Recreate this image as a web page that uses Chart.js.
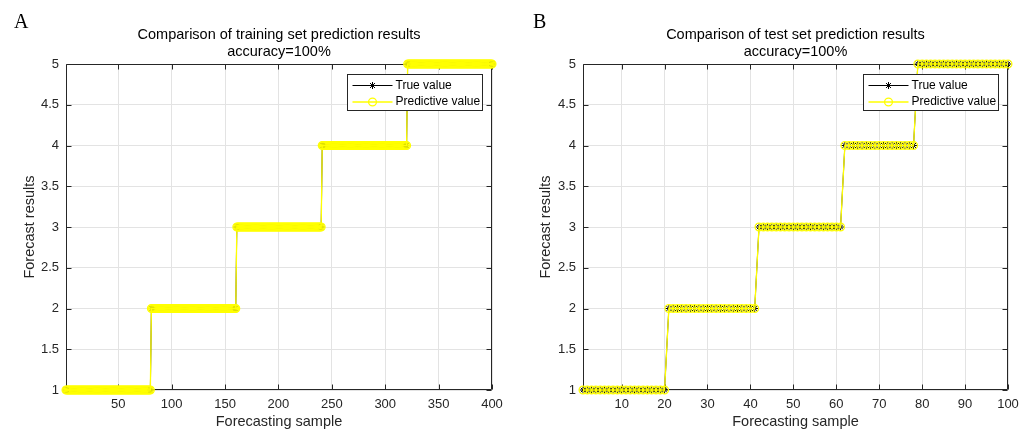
<!DOCTYPE html>
<html>
<head>
<meta charset="utf-8">
<title>Prediction results</title>
<script src="https://cdn.jsdelivr.net/npm/chart.js@4.4.1/dist/chart.umd.min.js"></script>
<style>
  body { margin: 0; background: #fff; }
  #wrap { position: relative; width: 1031px; height: 431px; overflow: hidden; }
  #wrap canvas { position: absolute; top: 0; }
  .panel { position: absolute; top: 11px; font: 20px "Liberation Serif", "DejaVu Serif", serif; line-height: 20px; color: #000; }
</style>
</head>
<body>
<div id="wrap">
  <canvas id="train" width="515" height="431" style="left:0"></canvas>
  <canvas id="test" width="515" height="431" style="left:516px"></canvas>
  <div class="panel" style="left:14px">A</div>
  <div class="panel" style="left:533px">B</div>
</div>
<script>
// class labels and how many samples of each class, in order
const classLabels = [1, 2, 3, 4, 5];
const trainCounts = [80, 80, 80, 80, 80];
const testCounts = [20, 21, 20, 17, 22];
// accuracy=100%, so the predicted runs are the same as the true ones
const trainPredCounts = [80, 80, 80, 80, 80];
const testPredCounts = [20, 21, 20, 17, 22];

const trainXTicks = [50, 100, 150, 200, 250, 300, 350, 400];
const testXTicks = [10, 20, 30, 40, 50, 60, 70, 80, 90, 100];
const yTicks = [1, 1.5, 2, 2.5, 3, 3.5, 4, 4.5, 5];

const seriesNames = ['True value', 'Predictive value'];
const titles = {
    train: ['Comparison of training set prediction results', 'accuracy=100%'],
    test: ['Comparison of test set prediction results', 'accuracy=100%']
};

Chart.defaults.font.family = '"Liberation Sans", Arial, Helvetica, sans-serif';
Chart.defaults.color = '#262626';

// turn the runs into one point per sample: x = sample number, y = class
function samplesFromRuns(labels, counts) {
    const pts = [];
    labels.forEach((lab, i) => {
        for (let k = 0; k < counts[i]; k++) {
            pts.push({ x: pts.length + 1, y: lab });
        }
    });
    return pts;
}

// MATLAB style box with inward ticks on all four sides
const matlabBox = {
    id: 'matlabBox',
    beforeDatasetsDraw(chart, args, opts) {
        const { ctx, chartArea: a, scales: { x, y } } = chart;
        const l = Math.round(a.left) + 0.5, r = Math.round(a.right) - 0.5;
        const t = Math.round(a.top) + 0.5, b = Math.round(a.bottom) - 0.5;
        ctx.save();
        ctx.strokeStyle = '#262626';
        ctx.lineWidth = 1;
        ctx.beginPath();
        ctx.rect(l, t, r - l, b - t);
        opts.xTicks.forEach(v => {
            const px = Math.round(x.getPixelForValue(v)) + 0.5;
            ctx.moveTo(px, b); ctx.lineTo(px, b - 5);
            ctx.moveTo(px, t); ctx.lineTo(px, t + 5);
        });
        opts.yTicks.forEach(v => {
            const py = Math.round(y.getPixelForValue(v)) + 0.5;
            ctx.moveTo(l, py); ctx.lineTo(l + 5, py);
            ctx.moveTo(r, py); ctx.lineTo(r - 5, py);
        });
        ctx.stroke();
        ctx.restore();
    }
};

function drawMarker(ctx, style, r, cx, cy) {
    ctx.beginPath();
    if (style === 'star') {
        const d = r * Math.SQRT1_2;
        ctx.moveTo(cx - r, cy); ctx.lineTo(cx + r, cy);
        ctx.moveTo(cx, cy - r); ctx.lineTo(cx, cy + r);
        ctx.moveTo(cx - d, cy - d); ctx.lineTo(cx + d, cy + d);
        ctx.moveTo(cx - d, cy + d); ctx.lineTo(cx + d, cy - d);
    } else {
        ctx.arc(cx, cy, r, 0, Math.PI * 2);
    }
    ctx.stroke();
}

// boxed legend in the top right corner of the axes
const matlabLegend = {
    id: 'matlabLegend',
    afterDraw(chart) {
        const { ctx, chartArea: a } = chart;
        const w = 135, h = 36;
        const left = Math.round(a.right - 10 - w) + 0.5;
        const top = Math.round(a.top + 10) + 0.5;
        ctx.save();
        ctx.fillStyle = '#fff';
        ctx.fillRect(left, top, w, h);
        ctx.strokeStyle = '#262626';
        ctx.lineWidth = 1;
        ctx.strokeRect(left, top, w, h);
        ctx.font = '12px "Liberation Sans", Arial, sans-serif';
        ctx.textBaseline = 'middle';
        chart.data.datasets.forEach((ds, i) => {
            const cy = top + 11 + i * 16.5;
            ctx.strokeStyle = ds.borderColor;
            ctx.lineWidth = ds.borderWidth;
            ctx.beginPath();
            ctx.moveTo(left + 5, cy);
            ctx.lineTo(left + 45, cy);
            ctx.stroke();
            ctx.strokeStyle = ds.pointBorderColor;
            ctx.lineWidth = ds.pointBorderWidth;
            drawMarker(ctx, ds.pointStyle, ds.pointRadius, left + 25, cy);
            ctx.fillStyle = '#000';
            ctx.fillText(ds.label, left + 48, cy);
        });
        ctx.restore();
    }
};

function makeChart(id, titleLines, truePts, predPts, xMax, xTicks, yAxisWidth) {
    const el = document.getElementById(id).getContext('2d');
    return new Chart(el, {
        type: 'line',
        data: {
            datasets: [{
                label: seriesNames[0],
                data: truePts,
                borderColor: '#000000',
                borderWidth: 1,
                pointStyle: 'star',
                pointRadius: 3.5,
                pointBorderColor: '#000000',
                pointBackgroundColor: '#000000',
                pointBorderWidth: 1,
                clip: false,
                order: 1
            }, {
                label: seriesNames[1],
                data: predPts,
                borderColor: '#ffff00',
                borderWidth: 1.3,
                pointStyle: 'circle',
                pointRadius: 3.9,
                pointBorderColor: '#ffff00',
                pointBackgroundColor: 'rgba(0,0,0,0)',
                pointBorderWidth: 1.3,
                clip: false,
                order: 0
            }]
        },
        options: {
            responsive: false,
            animation: false,
            events: [],
            layout: { padding: { top: 0, left: 0, right: 23, bottom: 0 } },
            plugins: {
                legend: { display: false },
                tooltip: { enabled: false },
                title: {
                    display: true,
                    fullSize: false,
                    text: titleLines,
                    color: '#000',
                    font: { size: 14.5, weight: 'normal', lineHeight: 1.2 },
                    padding: { top: 26, bottom: 3.2 }
                },
                matlabBox: { xTicks: xTicks, yTicks: yTicks }
            },
            scales: {
                x: {
                    type: 'linear',
                    min: 1,
                    max: xMax,
                    afterBuildTicks: s => { s.ticks = xTicks.map(v => ({ value: v })); },
                    afterFit: s => { s.height = 41; },
                    grid: { color: '#e3e3e3', drawTicks: false },
                    border: { display: false },
                    ticks: { autoSkip: false, maxRotation: 0, padding: 7, font: { size: 13 } },
                    title: {
                        display: true,
                        text: 'Forecasting sample',
                        font: { size: 14.5 },
                        padding: { top: 0, bottom: 0 }
                    }
                },
                y: {
                    min: 1,
                    max: 5,
                    afterBuildTicks: s => { s.ticks = yTicks.map(v => ({ value: v })); },
                    afterFit: s => { s.width = yAxisWidth; },
                    grid: { color: '#e3e3e3', drawTicks: false },
                    border: { display: false },
                    ticks: { padding: 7, font: { size: 13 }, callback: v => String(v) },
                    title: {
                        display: true,
                        text: 'Forecast results',
                        font: { size: 14.5 },
                        padding: { top: 21, bottom: 0 }
                    }
                }
            }
        },
        plugins: [matlabBox, matlabLegend]
    });
}

const trainChart = makeChart('train', titles.train,
    samplesFromRuns(classLabels, trainCounts), samplesFromRuns(classLabels, trainPredCounts),
    400, trainXTicks, 66);
const testChart = makeChart('test', titles.test,
    samplesFromRuns(classLabels, testCounts), samplesFromRuns(classLabels, testPredCounts),
    100, testXTicks, 67);
</script>
</body>
</html>
